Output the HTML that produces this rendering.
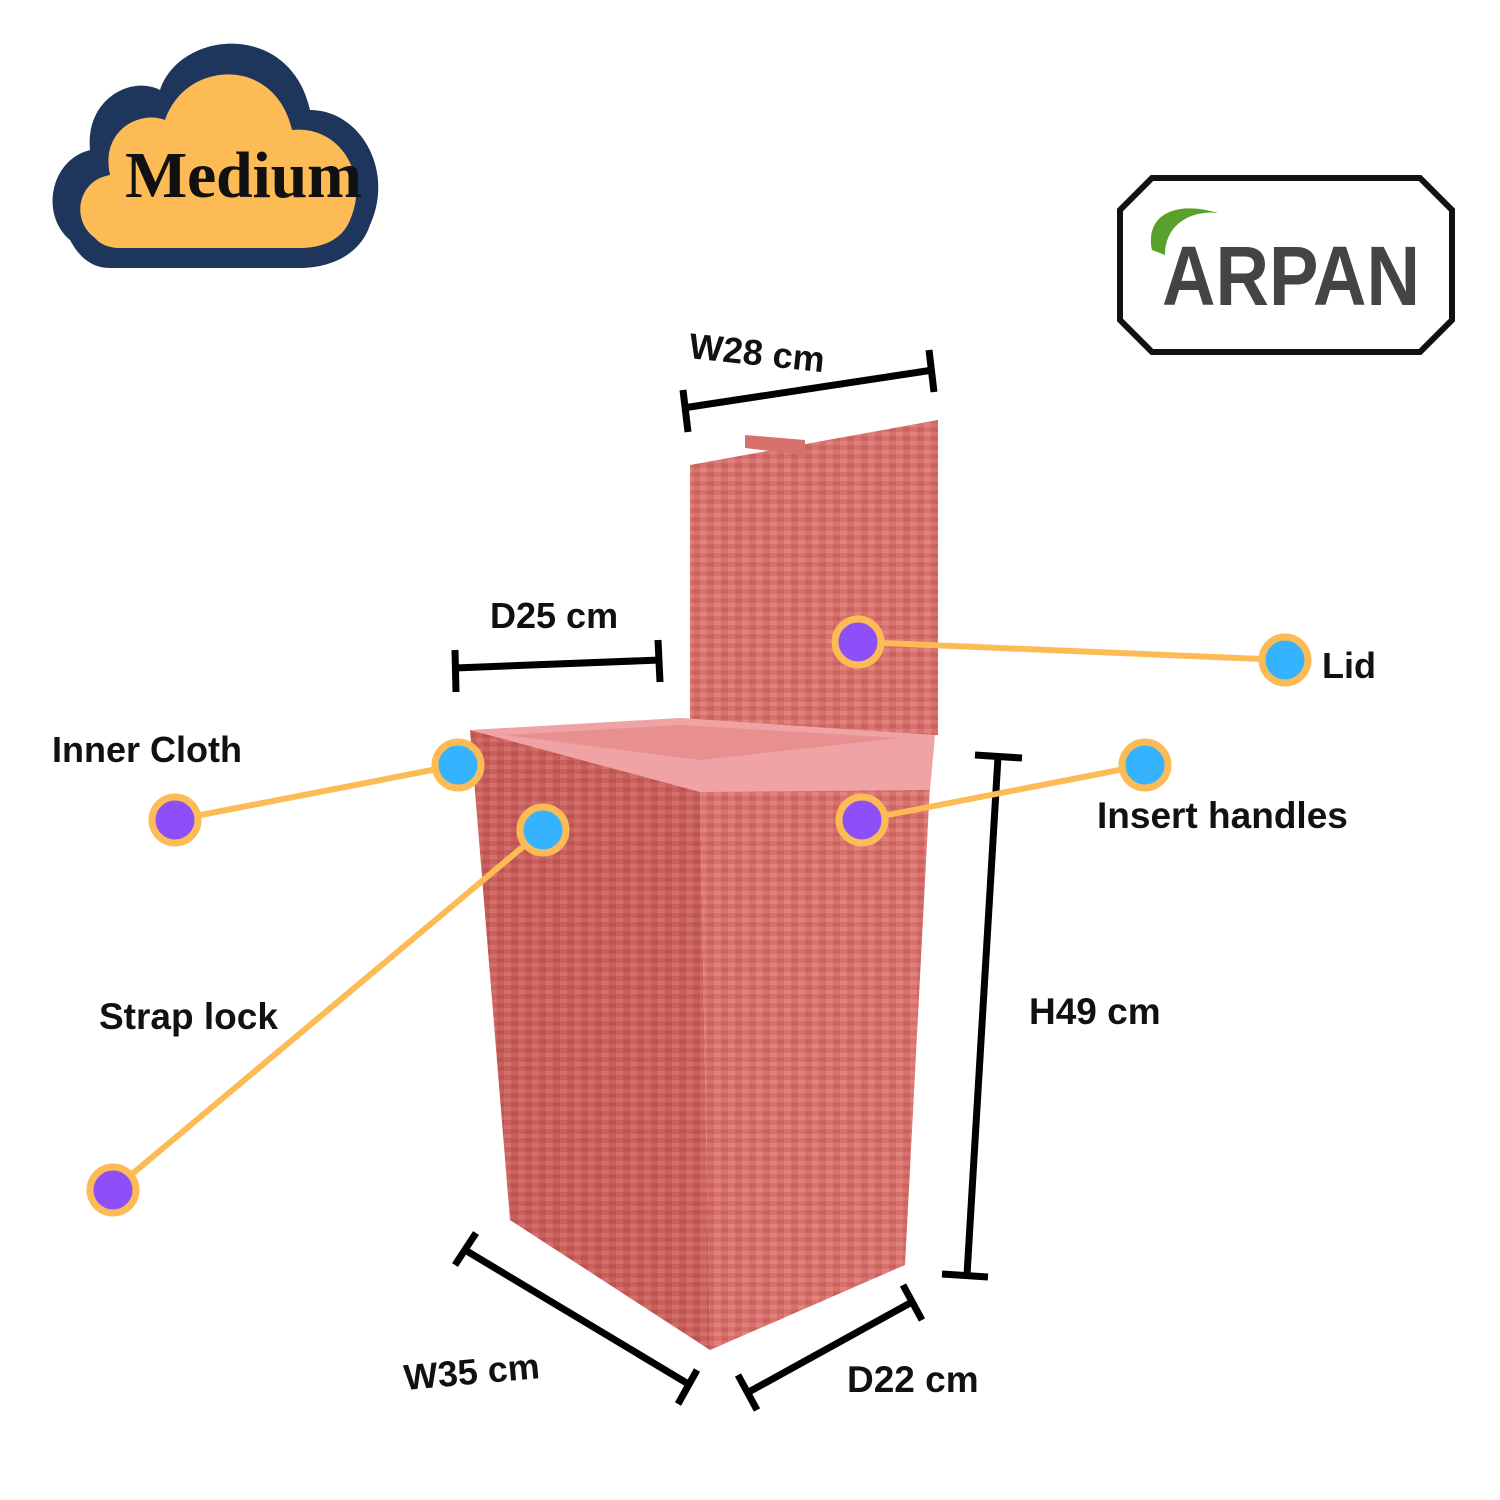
<!DOCTYPE html>
<html><head><meta charset="utf-8"><style>
html,body{margin:0;padding:0;background:#fff}
svg{display:block}
text{font-family:"Liberation Sans",sans-serif;font-weight:bold;fill:#111}
</style></head><body>
<svg width="1500" height="1500" viewBox="0 0 1500 1500" xmlns="http://www.w3.org/2000/svg">
<defs>
<pattern id="weave" width="14" height="9" patternUnits="userSpaceOnUse">
<rect width="14" height="9" fill="#d8706c"/>
<rect x="0" y="0" width="7" height="4" fill="#e0827d"/>
<rect x="7" y="4.5" width="7" height="4" fill="#c9625e"/>
</pattern>
<pattern id="weave2" width="14" height="9" patternUnits="userSpaceOnUse">
<rect width="14" height="9" fill="#c9605c"/>
<rect x="0" y="0" width="7" height="4" fill="#d4706b"/>
<rect x="7" y="4.5" width="7" height="4" fill="#b95450"/>
</pattern>
</defs>
<!-- cloud -->
<path d="M70,240 C40,215 50,160 90,150 C85,100 130,75 160,90 C180,30 290,20 310,110 C360,110 395,170 370,225 C360,255 330,268 300,268 L110,268 C90,268 78,255 70,240 Z" fill="#1e355c"/>
<path d="M95,238 C70,220 78,180 110,175 C100,130 140,110 165,120 C185,60 275,55 292,130 C340,125 370,175 350,220 C342,240 322,248 300,248 L120,248 C108,248 100,244 95,238 Z" fill="#fdbb56"/>
<text x="125" y="197" font-size="66" textLength="237" style="font-family:'Liberation Serif',serif">Medium</text>
<!-- ARPAN logo -->
<polygon points="1152,178 1420,178 1452,210 1452,320 1420,352 1152,352 1120,320 1120,210" fill="#fff" stroke="#111" stroke-width="6"/>
<path d="M1152,250 C1145,215 1175,200 1218,213 C1190,210 1165,225 1165,255 Z" fill="#5aa02c"/>
<text x="1162" y="305" font-size="84" textLength="258" lengthAdjust="spacingAndGlyphs" style="fill:#444">ARPAN</text>
<!-- lid -->
<polygon points="690,465 938,420 938,735 690,740" fill="url(#weave)"/>
<polygon points="745,435 805,440 805,455 745,448" fill="#d8706c"/>
<!-- body -->
<polygon points="470,730 700,790 710,1350 510,1220" fill="url(#weave2)"/>
<polygon points="700,790 930,785 905,1265 710,1350" fill="url(#weave)"/>
<polygon points="470,730 680,718 935,735 930,790 700,792" fill="#f0a3a4"/>
<polygon points="505,735 680,725 900,738 700,760" fill="#e89090"/>
<!-- dimension lines -->
<g stroke="#000" stroke-width="7" fill="none">
<line x1="683" y1="408" x2="933" y2="370"/><line x1="683" y1="390" x2="688" y2="432"/><line x1="929" y1="350" x2="934" y2="392"/>
<line x1="455" y1="668" x2="660" y2="660"/><line x1="455" y1="650" x2="456" y2="692"/><line x1="658" y1="640" x2="660" y2="682"/>
<line x1="998" y1="757" x2="967" y2="1275"/><line x1="975" y1="755" x2="1022" y2="758"/><line x1="942" y1="1274" x2="988" y2="1277"/>
<line x1="465" y1="1250" x2="690" y2="1385"/><line x1="455" y1="1265" x2="476" y2="1233"/><line x1="678" y1="1404" x2="697" y2="1370"/>
<line x1="747" y1="1393" x2="912" y2="1302"/><line x1="738" y1="1375" x2="757" y2="1410"/><line x1="903" y1="1285" x2="922" y2="1320"/>
</g>
<!-- connectors -->
<g stroke="#fdbb56" stroke-width="6" fill="none">
<line x1="858" y1="642" x2="1285" y2="660"/>
<line x1="175" y1="820" x2="458" y2="765"/>
<line x1="862" y1="820" x2="1145" y2="765"/>
<line x1="113" y1="1190" x2="543" y2="830"/>
</g>
<g stroke="#fdbb56" stroke-width="7">
<circle cx="858" cy="642" r="23" fill="#8f4ff8"/>
<circle cx="1285" cy="660" r="23" fill="#36b3ff"/>
<circle cx="175" cy="820" r="23" fill="#8f4ff8"/>
<circle cx="458" cy="765" r="23" fill="#36b3ff"/>
<circle cx="862" cy="820" r="23" fill="#8f4ff8"/>
<circle cx="1145" cy="765" r="23" fill="#36b3ff"/>
<circle cx="543" cy="830" r="23" fill="#36b3ff"/>
<circle cx="113" cy="1190" r="23" fill="#8f4ff8"/>
</g>
<!-- labels -->
<text x="688" y="358" font-size="36" transform="rotate(6 688 358)">W28 cm</text>
<text x="490" y="628" font-size="36">D25 cm</text>
<text x="1322" y="678" font-size="36">Lid</text>
<text x="52" y="762" font-size="36">Inner Cloth</text>
<text x="1097" y="828" font-size="37">Insert handles</text>
<text x="99" y="1029" font-size="37">Strap lock</text>
<text x="1029" y="1024" font-size="37">H49 cm</text>
<text x="405" y="1390" font-size="36" transform="rotate(-5 405 1390)">W35 cm</text>
<text x="847" y="1392" font-size="37">D22 cm</text>
</svg>
</body></html>
